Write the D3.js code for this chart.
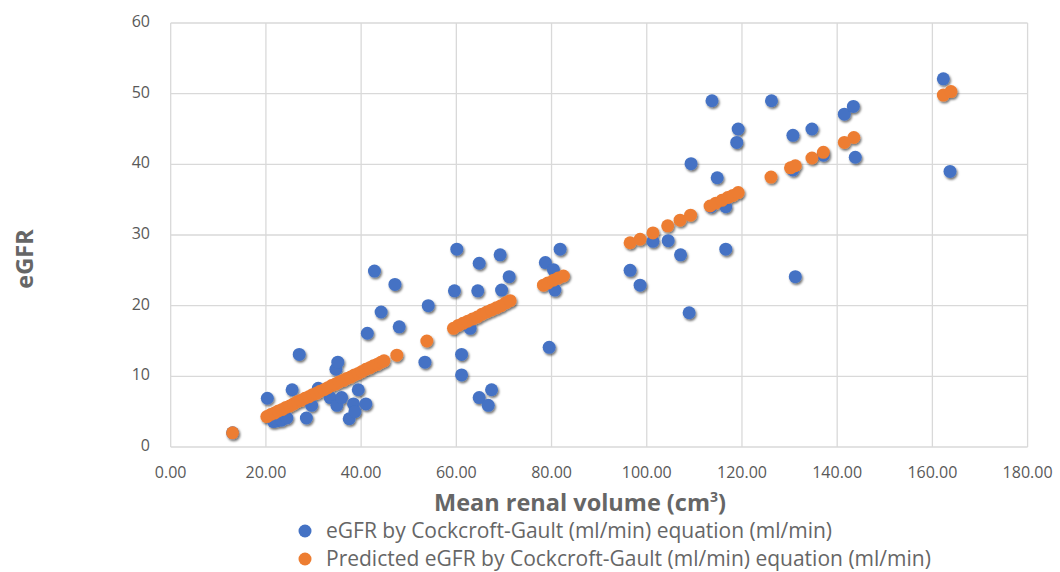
<!DOCTYPE html>
<html lang="en">
<head>
    <meta charset="utf-8">
    <script src="https://d3js.org/d3.v7.min.js"></script>
    <style>
        body { margin: 0; background: #ffffff; }
        .tick-label { font-family: "Open Sans", "Noto Sans", sans-serif; font-size: 16px; fill: #595959; }
        .axis-title { font-family: "Open Sans", "Noto Sans", sans-serif; font-size: 23.5px; font-weight: bold; fill: #666666; }
        .legend-text { font-family: "Open Sans", "Noto Sans", sans-serif; font-size: 21px; fill: #666666; }
    </style>
</head>
<body>
    <div id="chart"></div>
    <script>
        // measured eGFR (blue): [renal volume, eGFR]
        const measured = [
            [13.0, 2.0], [20.3, 6.9], [21.6, 3.6], [22.3, 3.7], [23.3, 3.8], [24.4, 4.1],
            [25.5, 8.1], [27.0, 13.1], [28.5, 4.1], [29.6, 5.9], [31.0, 8.3], [33.5, 7.0],
            [34.7, 11.0], [35.1, 12.0], [34.9, 5.9], [35.9, 7.0], [37.5, 4.0], [38.4, 6.1],
            [38.7, 5.0], [39.4, 8.1], [41.0, 6.1], [41.3, 16.1], [42.8, 24.9], [44.2, 19.1],
            [47.1, 23.0], [48.0, 17.0], [53.4, 12.0], [54.1, 20.0], [59.6, 22.1], [60.1, 28.0],
            [61.1, 13.1], [61.1, 10.2], [62.9, 16.8], [64.5, 22.1], [64.8, 26.0], [64.8, 7.0],
            [66.7, 5.9], [67.4, 8.1], [69.2, 27.2], [69.5, 22.2], [71.1, 24.1], [78.7, 26.1],
            [79.5, 14.1], [80.4, 25.1], [80.7, 22.2], [81.8, 28.0], [96.5, 25.0], [98.6, 22.9],
            [101.3, 29.1], [104.5, 29.2], [107.1, 27.2], [108.9, 19.0], [109.3, 40.1], [113.7, 49.0],
            [113.5, 34.0], [114.8, 38.1], [116.6, 34.0], [116.6, 28.0], [118.9, 43.1], [119.2, 45.0],
            [126.2, 49.0], [130.7, 44.1], [130.7, 39.2], [131.2, 24.1], [134.7, 45.0], [137.1, 41.3],
            [141.5, 47.1], [143.4, 48.2], [143.8, 41.0], [162.3, 52.1], [163.7, 39.0]
        ];

        // predicted eGFR (orange): [renal volume, eGFR]
        const predicted = [
            [13.0, 2.0], [20.2, 4.3], [21.0, 4.6], [21.8, 4.8], [22.6, 5.1], [23.4, 5.3],
            [24.2, 5.6], [25.0, 5.8], [25.8, 6.1], [26.6, 6.4], [27.4, 6.6], [28.2, 6.9],
            [29.0, 7.1], [29.8, 7.4], [30.6, 7.6], [31.4, 7.9], [32.2, 8.1], [33.0, 8.4],
            [33.8, 8.7], [34.6, 8.9], [35.4, 9.2], [36.2, 9.4], [37.0, 9.7], [37.8, 9.9],
            [38.6, 10.2], [39.4, 10.4], [40.2, 10.7], [41.0, 11.0], [41.8, 11.2], [42.6, 11.5],
            [43.4, 11.7], [44.2, 12.0], [44.8, 12.2], [47.5, 13.0], [53.8, 15.0], [59.4, 16.8],
            [60.4, 17.2], [61.4, 17.5], [62.4, 17.8], [63.4, 18.1], [64.4, 18.4], [65.4, 18.8],
            [66.4, 19.1], [67.4, 19.4], [68.4, 19.7], [69.4, 20.0], [70.4, 20.4], [71.3, 20.7],
            [78.3, 22.9], [79.2, 23.2], [80.4, 23.6], [81.4, 23.9], [82.5, 24.2], [96.5, 28.9],
            [98.6, 29.4], [101.3, 30.3], [104.4, 31.3], [107.0, 32.1], [109.2, 32.8], [113.3, 34.1],
            [114.5, 34.5], [115.8, 34.9], [117.0, 35.3], [118.1, 35.6], [119.2, 36.0], [126.1, 38.2],
            [130.2, 39.5], [131.2, 39.8], [134.7, 40.9], [137.1, 41.7], [141.5, 43.1], [143.5, 43.8],
            [162.3, 49.8], [163.9, 50.3]
        ];

        const xTicks = [0, 20, 40, 60, 80, 100, 120, 140, 160, 180];
        const yTicks = [0, 10, 20, 30, 40, 50, 60];
        const seriesNames = [
            "eGFR by Cockcroft-Gault (ml/min) equation (ml/min)",
            "Predicted eGFR by Cockcroft-Gault (ml/min) equation (ml/min)"
        ];
        const seriesColors = ["#4472C4", "#ED7D31"];

        const width = 1060;
        const height = 572;
        const plot = { left: 170.7, right: 1027.6, top: 23, bottom: 447 };

        const svg = d3.select("#chart")
            .append("svg")
            .attr("width", width)
            .attr("height", height);

        const defs = svg.append("defs");
        const shadow = defs.append("filter")
            .attr("id", "shadow")
            .attr("x", "-50%").attr("y", "-50%")
            .attr("width", "200%").attr("height", "200%");
        shadow.append("feDropShadow")
            .attr("dx", 1.2)
            .attr("dy", 1.8)
            .attr("stdDeviation", 1.2)
            .attr("flood-color", "#000000")
            .attr("flood-opacity", 0.55);

        const xScale = d3.scaleLinear().domain([0, 180]).range([plot.left, plot.right]);
        const yScale = d3.scaleLinear().domain([0, 60]).range([plot.bottom, plot.top]);

        // grid
        const grid = svg.append("g");
        grid.selectAll(".vline")
            .data(xTicks)
            .enter().append("line")
            .attr("x1", d => xScale(d)).attr("x2", d => xScale(d))
            .attr("y1", plot.top).attr("y2", plot.bottom)
            .attr("stroke", "#d9d9d9")
            .attr("stroke-width", 1.3);
        grid.selectAll(".hline")
            .data(yTicks)
            .enter().append("line")
            .attr("x1", plot.left).attr("x2", plot.right)
            .attr("y1", d => yScale(d)).attr("y2", d => yScale(d))
            .attr("stroke", "#d9d9d9")
            .attr("stroke-width", 1.3);

        // tick labels
        svg.selectAll(".ylab")
            .data(yTicks)
            .enter().append("text")
            .attr("class", "tick-label")
            .attr("x", 150)
            .attr("y", d => yScale(d) + 4)
            .attr("text-anchor", "end")
            .text(d => d);

        svg.selectAll(".xlab")
            .data(xTicks)
            .enter().append("text")
            .attr("class", "tick-label")
            .attr("x", d => xScale(d))
            .attr("y", 477.5)
            .attr("text-anchor", "middle")
            .text(d => d3.format(".2f")(d));

        // points
        const dots = svg.append("g").attr("filter", "url(#shadow)");
        dots.selectAll(".blue")
            .data(measured)
            .enter().append("circle")
            .attr("cx", d => xScale(d[0]))
            .attr("cy", d => yScale(d[1]))
            .attr("r", 6.5)
            .attr("fill", seriesColors[0]);
        dots.selectAll(".orange")
            .data(predicted)
            .enter().append("circle")
            .attr("cx", d => xScale(d[0]))
            .attr("cy", d => yScale(d[1]))
            .attr("r", 6.5)
            .attr("fill", seriesColors[1]);

        // axis titles
        const xTitle = svg.append("text")
            .attr("class", "axis-title")
            .attr("x", 580)
            .attr("y", 511)
            .attr("text-anchor", "middle");
        xTitle.append("tspan").text("Mean renal volume (cm");
        xTitle.append("tspan").attr("font-size", "14px").attr("dy", -9).text("3");
        xTitle.append("tspan").attr("dy", 9).text(")");

        svg.append("text")
            .attr("class", "axis-title")
            .attr("transform", "translate(33,259) rotate(-90)")
            .attr("text-anchor", "middle")
            .text("eGFR");

        // legend
        const legend = svg.selectAll(".legend")
            .data(seriesNames)
            .enter().append("g")
            .attr("transform", (d, i) => "translate(305," + (531 + i * 28) + ")");
        legend.append("circle")
            .attr("r", 6.5)
            .attr("fill", (d, i) => seriesColors[i]);
        legend.append("text")
            .attr("class", "legend-text")
            .attr("x", 21)
            .attr("y", 6.5)
            .text(d => d);
    </script>
</body>
</html>
